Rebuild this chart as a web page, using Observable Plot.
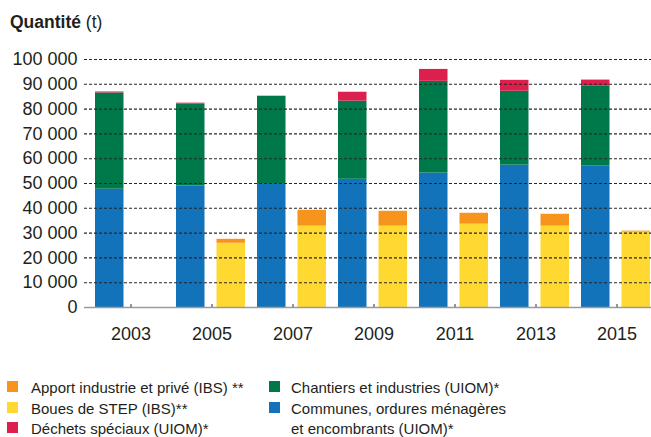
<!DOCTYPE html>
<html><head><meta charset="utf-8">
<script src="https://cdn.jsdelivr.net/npm/d3@7"></script>
<script src="https://cdn.jsdelivr.net/npm/@observablehq/plot@0.6"></script>
<style>
html,body{margin:0;padding:0;background:#fff;}
#wrap{position:relative;width:651px;height:437px;overflow:hidden;font-family:"Liberation Sans",Arial,Helvetica,sans-serif;color:#231f20;}
#title{position:absolute;left:10px;top:14px;font-size:17.5px;line-height:17px;white-space:nowrap;}
#title b{font-weight:bold;}
#chart{position:absolute;left:0;top:40px;}
.leg{position:absolute;font-size:15px;line-height:20px;white-space:nowrap;}
.sw{position:absolute;width:11px;height:11px;}
</style>
</head><body>
<div id="wrap">
  <div id="title"><b>Quantité</b> (t)</div>
  <div id="chart"></div>
</div>
<script>
const years = ["2003","2005","2007","2009","2011","2013","2015"];
const communes  = [47700, 49000, 50000, 51700, 54200, 57400, 57000];
const chantiers = [38800, 33000, 35200, 31500, 37000, 29800, 32400];
const dechets   = [400, 400, 0, 3600, 4800, 4400, 2300];
const boues     = [null, 25900, 32800, 32800, 33600, 32800, 30400];
const apport    = [null, 1600, 6400, 6000, 4400, 4800, 400];
const yTicks = [0,10000,20000,30000,40000,50000,60000,70000,80000,90000,100000];

const seriesNames = [
  "Apport industrie et privé (IBS) **",
  "Boues de STEP (IBS)**",
  "Déchets spéciaux (UIOM)*",
  "Chantiers et industries (UIOM)*",
  "Communes, ordures ménagères et encombrants (UIOM)*"
];
const seriesColors = ["#f7941d", "#ffd832", "#dc1f4c", "#00794a", "#1272ba"];

const uiom = [];
years.forEach((y, i) => {
  uiom.push({year: y, series: seriesNames[4], value: communes[i]});
  uiom.push({year: y, series: seriesNames[3], value: chantiers[i]});
  uiom.push({year: y, series: seriesNames[2], value: dechets[i]});
});
const ibs = [];
years.forEach((y, i) => {
  if (boues[i] != null) ibs.push({year: y, series: seriesNames[1], value: boues[i]});
  if (apport[i] != null) ibs.push({year: y, series: seriesNames[0], value: apport[i]});
});

const fmt = d => d3.format(",")(d).replace(/,/g, " ");

const plot = Plot.plot({
  width: 651,
  height: 300,
  marginLeft: 87,
  marginRight: -8,
  marginTop: 19,
  marginBottom: 33,
  style: {fontFamily: "Liberation Sans, Arial, Helvetica, sans-serif", fontSize: "18px", color: "#231f20", background: "transparent", overflow: "visible"},
  x: {domain: years, padding: 0},
  y: {domain: [0, 100000]},
  color: {domain: seriesNames, range: seriesColors},
  marks: [
    Plot.barY(uiom, {x: "year", y: "value", fill: "series", insetLeft: 5, insetRight: 47.5}),
    Plot.barY(ibs, {x: "year", y: "value", fill: "series", insetLeft: 45.5, insetRight: 7}),
    Plot.ruleY(yTicks.filter(v => v > 0), {stroke: "#262626", strokeWidth: 1.1, strokeDasharray: "3,2", insetLeft: -3}),
    Plot.ruleY([0], {stroke: "#9a9a9a", strokeWidth: 1.5, insetLeft: -3}),
    Plot.ruleX(years, {x: d => d, y1: 0, y2: 0, insetTop: -3, stroke: "#333", strokeWidth: 1}),
    Plot.axisY({ticks: yTicks, tickSize: 0, tickPadding: 10, tickFormat: fmt, label: null, fontSize: 18}),
    Plot.axisX({tickSize: 0, tickPadding: 20, label: null, fontSize: 18})
  ]
});
document.getElementById("chart").appendChild(plot);

// Legend
const wrap = document.getElementById("wrap");
const items = [
  {name: seriesNames[0], color: seriesColors[0], col: 0, row: 0},
  {name: seriesNames[1], color: seriesColors[1], col: 0, row: 1},
  {name: seriesNames[2], color: seriesColors[2], col: 0, row: 2},
  {name: seriesNames[3], color: seriesColors[3], col: 1, row: 0},
  {name: "Communes, ordures ménagères", color: seriesColors[4], col: 1, row: 1},
  {name: "et encombrants (UIOM)*", color: null, col: 1, row: 2}
];
const colSw = [7, 269], colTx = [31, 291];
const top0 = 378, rowH = 20.5;
items.forEach(it => {
  if (it.color) {
    const s = document.createElement("div");
    s.className = "sw";
    s.style.left = colSw[it.col] + "px";
    s.style.top = (top0 + it.row * rowH + 3) + "px";
    s.style.background = it.color;
    wrap.appendChild(s);
  }
  const t = document.createElement("div");
  t.className = "leg";
  t.style.left = colTx[it.col] + "px";
  t.style.top = (top0 + it.row * rowH) + "px";
  t.textContent = it.name;
  wrap.appendChild(t);
});
</script>
</body></html>
